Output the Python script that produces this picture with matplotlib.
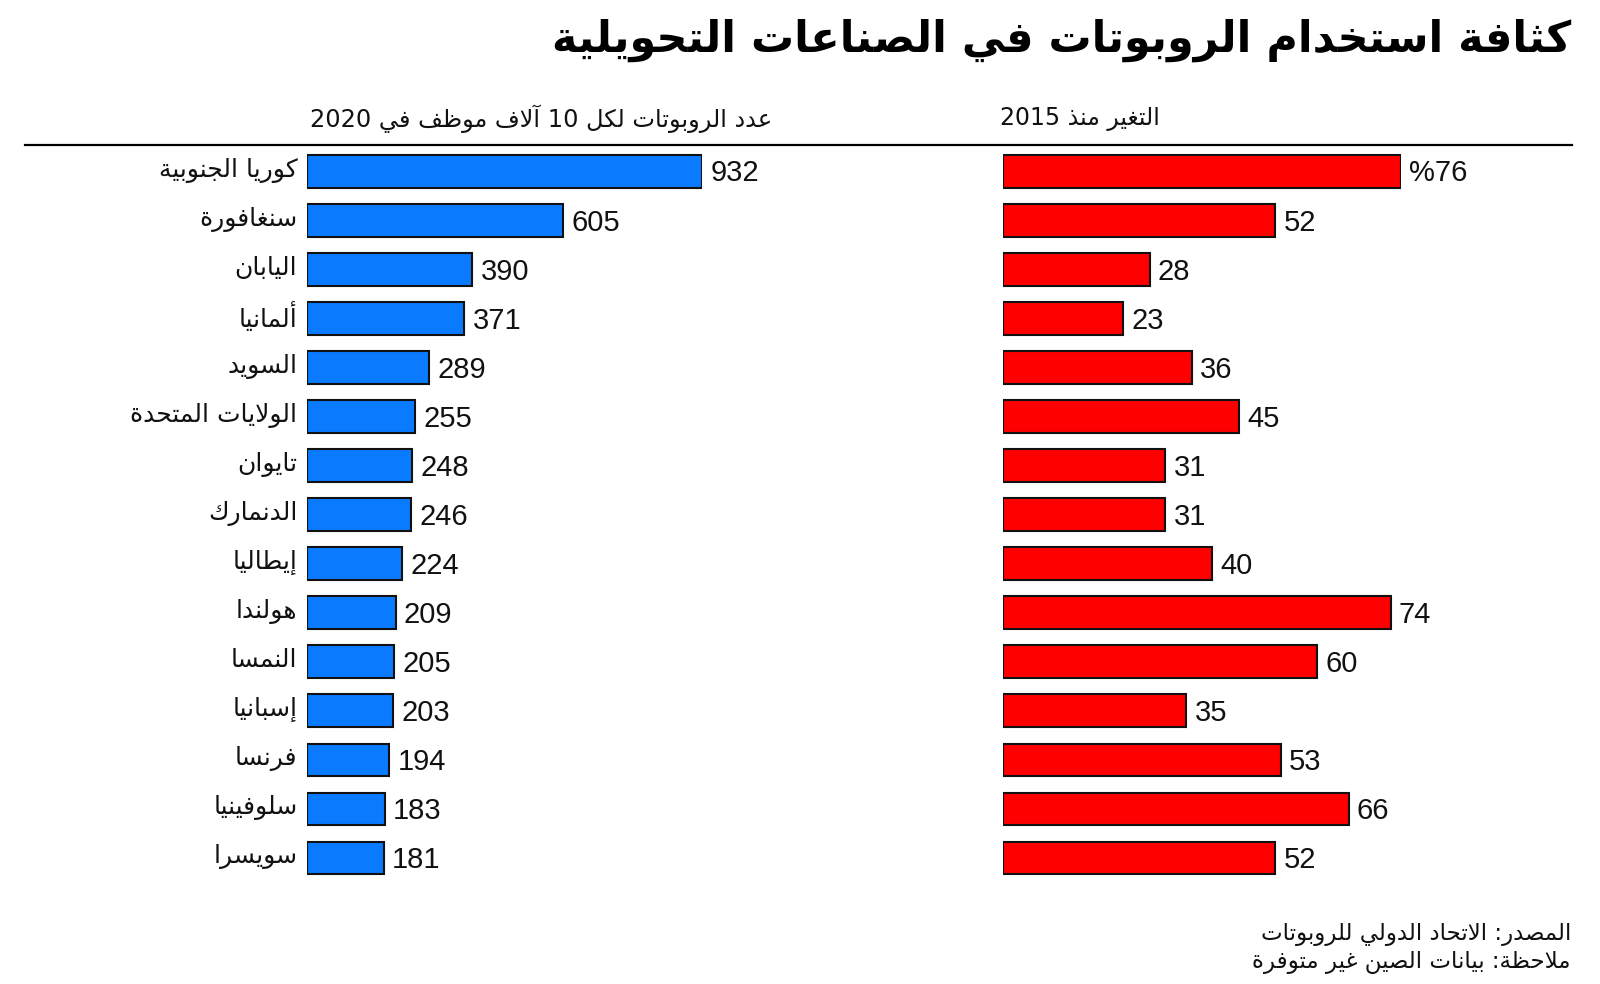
import re
import matplotlib
matplotlib.use("Agg")
import matplotlib.pyplot as plt
from matplotlib.lines import Line2D

# ---------------- data ----------------
countries = ["كوريا الجنوبية", "سنغافورة", "اليابان", "ألمانيا", "السويد",
             "الولايات المتحدة", "تايوان", "الدنمارك", "إيطاليا", "هولندا",
             "النمسا", "إسبانيا", "فرنسا", "سلوفينيا", "سويسرا"]
density_2020 = [932, 605, 390, 371, 289, 255, 248, 246, 224, 209, 205, 203, 194, 183, 181]
change_since_2015 = [76, 52, 28, 23, 36, 45, 31, 31, 40, 74, 60, 35, 53, 66, 52]

title = "كثافة استخدام الروبوتات في الصناعات التحويلية"
left_header = "عدد الروبوتات لكل 10 آلاف موظف في 2020"
right_header = "التغير منذ 2015"
source_line = "المصدر: الاتحاد الدولي للروبوتات"
note_line = "ملاحظة: بيانات الصين غير متوفرة"

BLUE = "#0a7bff"
RED = "#ff0000"

# ---------------- minimal Arabic shaping (no external libs) ----------------
def _f4(b):
    return (chr(b), chr(b + 1), chr(b + 2), chr(b + 3))

def _f2(b):
    return (chr(b), chr(b + 1), None, None)

FORMS = {
    '\u0621': ('\uFE80', None, None, None),
    '\u0622': _f2(0xFE81), '\u0623': _f2(0xFE83), '\u0624': _f2(0xFE85), '\u0625': _f2(0xFE87),
    '\u0626': _f4(0xFE89), '\u0627': _f2(0xFE8D), '\u0628': _f4(0xFE8F), '\u0629': _f2(0xFE93),
    '\u062A': _f4(0xFE95), '\u062B': _f4(0xFE99), '\u062C': _f4(0xFE9D), '\u062D': _f4(0xFEA1),
    '\u062E': _f4(0xFEA5), '\u062F': _f2(0xFEA9), '\u0630': _f2(0xFEAB), '\u0631': _f2(0xFEAD),
    '\u0632': _f2(0xFEAF), '\u0633': _f4(0xFEB1), '\u0634': _f4(0xFEB5), '\u0635': _f4(0xFEB9),
    '\u0636': _f4(0xFEBD), '\u0637': _f4(0xFEC1), '\u0638': _f4(0xFEC5), '\u0639': _f4(0xFEC9),
    '\u063A': _f4(0xFECD), '\u0641': _f4(0xFED1), '\u0642': _f4(0xFED5), '\u0643': _f4(0xFED9),
    '\u0644': _f4(0xFEDD), '\u0645': _f4(0xFEE1), '\u0646': _f4(0xFEE5), '\u0647': _f4(0xFEE9),
    '\u0648': _f2(0xFEED), '\u0649': _f2(0xFEEF), '\u064A': _f4(0xFEF1),
}
LAMALEF = {'\u0622': ('\uFEF5', '\uFEF6'), '\u0623': ('\uFEF7', '\uFEF8'),
           '\u0625': ('\uFEF9', '\uFEFA'), '\u0627': ('\uFEFB', '\uFEFC')}


def _shape(s):
    toks = []
    i = 0
    while i < len(s):
        c = s[i]
        if c == '\u0644' and i + 1 < len(s) and s[i + 1] in LAMALEF:
            toks.append(('LA', s[i + 1]))
            i += 2
        else:
            toks.append(('C', c))
            i += 1

    def joins_next(t):
        if t[0] == 'LA':
            return False
        f = FORMS.get(t[1])
        return f is not None and f[2] is not None

    def joins_prev(t):
        if t[0] == 'LA':
            return True
        f = FORMS.get(t[1])
        return f is not None and f[1] is not None

    out = []
    for k, t in enumerate(toks):
        prev = toks[k - 1] if k > 0 else None
        nxt = toks[k + 1] if k + 1 < len(toks) else None
        cp = prev is not None and joins_next(prev) and joins_prev(t)
        cn = nxt is not None and joins_next(t) and joins_prev(nxt)
        if t[0] == 'LA':
            iso, fin = LAMALEF[t[1]]
            out.append(fin if cp else iso)
            continue
        f = FORMS.get(t[1])
        if f is None:
            out.append(t[1])
        elif cp and cn:
            out.append(f[3])
        elif cp:
            out.append(f[1])
        elif cn:
            out.append(f[2])
        else:
            out.append(f[0])
    return ''.join(out)


def ar(s):
    v = _shape(s)[::-1]
    return re.sub(r'[0-9A-Za-z.,%]+', lambda m: m.group(0)[::-1], v)


# ---------------- figure ----------------
W, H = 1600, 984
fig = plt.figure(figsize=(W / 100, H / 100), dpi=100)
fig.patch.set_facecolor("white")

AR_FONT = ["DejaVu Sans"]
NUM_FONT = ["Liberation Sans", "DejaVu Sans"]


def fx(x):
    return x / W


def fy(y):
    return 1 - y / H


n = len(countries)
row0, row_step = 171.4, 49.04
top_px = row0 - row_step / 2
bot_px = top_px + row_step * n

# left panel axes: x=0 at 307px, x=932 at 702px
lx0, lx1 = 307, 702
axL = fig.add_axes([fx(lx0), fy(bot_px), (lx1 - lx0) / W, (bot_px - top_px) / H])
# right panel axes: x=0 at 1003px, x=76 at 1401px
rx0, rx1 = 1003, 1401
axR = fig.add_axes([fx(rx0), fy(bot_px), (rx1 - rx0) / W, (bot_px - top_px) / H])

ypos = list(range(n))
axL.barh(ypos, density_2020, height=0.667, color=BLUE, edgecolor="#111111", linewidth=1.5)
axR.barh(ypos, change_since_2015, height=0.667, color=RED, edgecolor="#111111", linewidth=1.5)

axL.set_xlim(0, max(density_2020))
axR.set_xlim(0, max(change_since_2015))
for ax in (axL, axR):
    ax.set_ylim(n - 0.5, -0.5)
    ax.axis("off")
    ax.patch.set_alpha(0)

for i, (c, v) in enumerate(zip(countries, density_2020)):
    axL.annotate(str(v), xy=(v, i), xytext=(6, -1.5), textcoords="offset points",
                 ha="left", va="center", fontsize=21, family=NUM_FONT, color="#111111",
                 annotation_clip=False)
    axL.annotate(ar(c), xy=(0, i), xytext=(-7, 1), textcoords="offset points",
                 ha="right", va="center", fontsize=18, family=AR_FONT, color="#111111",
                 annotation_clip=False)

for i, v in enumerate(change_since_2015):
    lab = "%" + str(v) if i == 0 else str(v)
    axR.annotate(lab, xy=(v, i), xytext=(6, -1.5), textcoords="offset points",
                 ha="left", va="center", fontsize=21, family=NUM_FONT, color="#111111",
                 annotation_clip=False)

# title
fig.text(fx(1571), fy(40), ar(title), ha="right", va="center", fontsize=31,
         fontweight="bold", family=AR_FONT, color="black")

# column headers
fig.text(fx(772), fy(119), ar(left_header), ha="right", va="center", fontsize=17.3,
         family=AR_FONT, color="#111111")
fig.text(fx(1160), fy(119), ar(right_header), ha="right", va="center", fontsize=17,
         family=AR_FONT, color="#111111")

# header rule
fig.add_artist(Line2D([fx(25), fx(1572)], [fy(145), fy(145)], color="black", lw=1.6))

# footer
fig.text(fx(1571), fy(935), ar(source_line), ha="right", va="center", fontsize=16.5,
         family=AR_FONT, color="#111111")
fig.text(fx(1571), fy(963), ar(note_line), ha="right", va="center", fontsize=16.5,
         family=AR_FONT, color="#111111")

fig.savefig("out.png", dpi=100, facecolor="white")
